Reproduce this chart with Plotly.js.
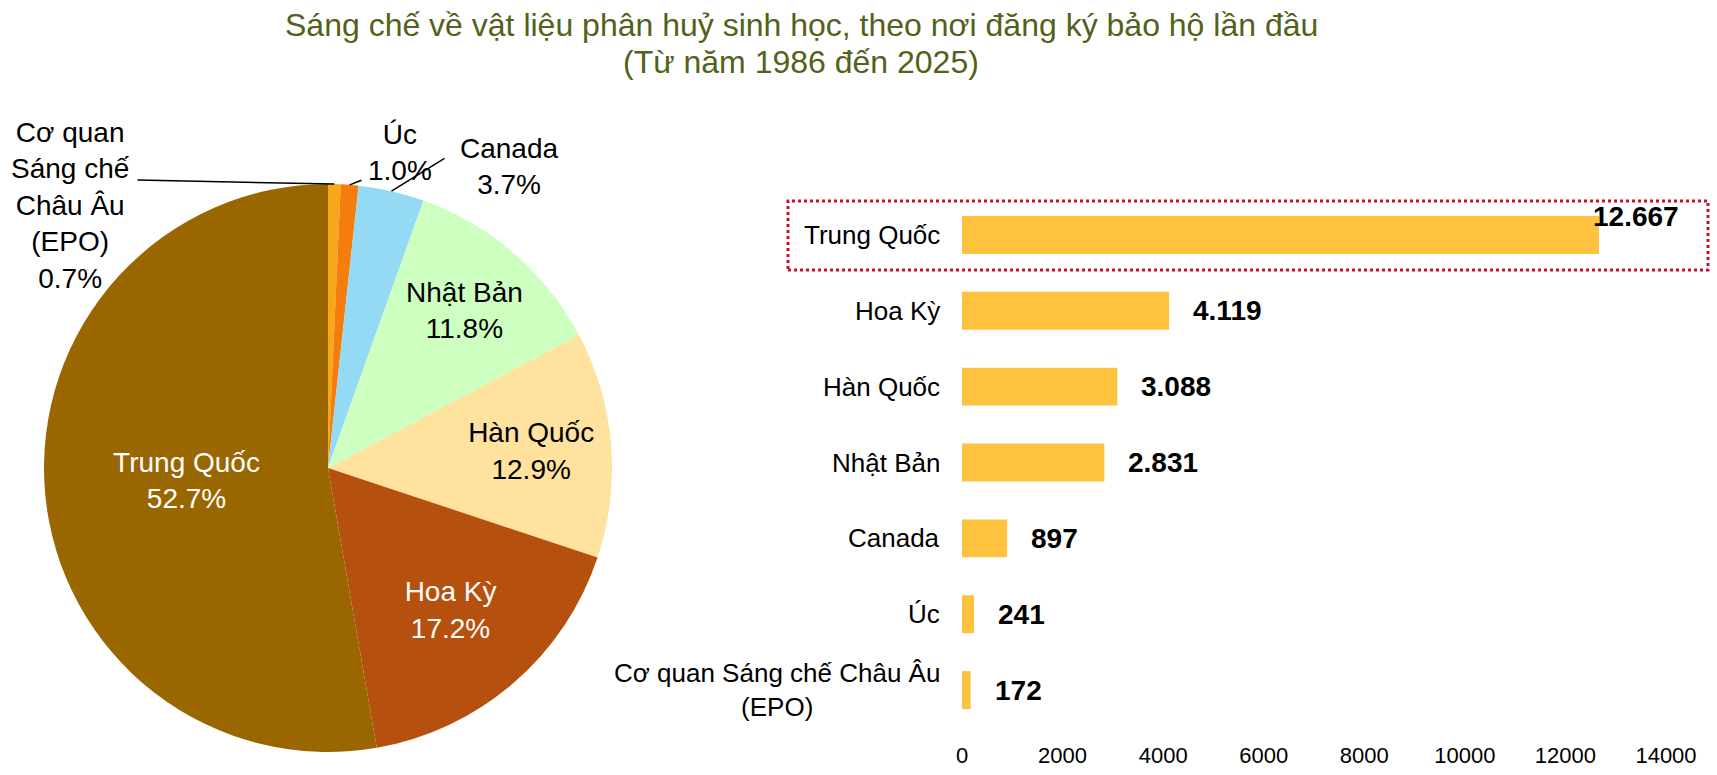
<!DOCTYPE html>
<html>
<head>
<meta charset="utf-8">
<script src="https://cdn.plot.ly/plotly-3.0.1.min.js"></script>
<style>
  html, body { margin: 0; padding: 0; background: #fff; }
  #chart { width: 1717px; height: 775px; }
</style>
</head>
<body>
<div id="chart"></div>
<script>
// Countries, ordered from the top bar down (and clockwise on the pie from EPO)
const countries = ["Trung Quốc", "Hoa Kỳ", "Hàn Quốc", "Nhật Bản", "Canada", "Úc", "Cơ quan Sáng chế Châu Âu<br>(EPO)"];
const patentCounts = [12667, 4119, 3088, 2831, 897, 241, 172];
const pieLabels = ["Trung Quốc", "Hoa Kỳ", "Hàn Quốc", "Nhật Bản", "Canada", "Úc", "Cơ quan<br>Sáng chế<br>Châu Âu<br>(EPO)"];
const xTicks = [0, 2000, 4000, 6000, 8000, 10000, 12000, 14000];
const titleLines = ["Sáng chế về vật liệu phân huỷ sinh học, theo nơi đăng ký bảo hộ lần đầu", "(Từ năm 1986 đến 2025)"];

const W = 1717, H = 775;
const FONT = "Liberation Sans, Arial, sans-serif";
const sliceColors = ["#996600", "#B5500F", "#FEE29E", "#CCFFC0", "#94DAF5", "#F57D0D", "#FAA61A"];
const darkSlices = ["Trung Quốc", "Hoa Kỳ"];
const nSmall = 3; // the three smallest slices are labelled outside

// pie geometry in pixels
const pie = { cx: 328, cy: 468, r: 284 };
const px = (x) => x / W;
const py = (y) => 1 - y / H;

// pie: reverse so it runs clockwise from 12 o'clock starting with EPO
const pieVals = patentCounts.slice().reverse();
const pieLab = pieLabels.slice().reverse();
const pieCol = sliceColors.slice().reverse();
const total = pieVals.reduce((a, b) => a + b, 0);

const pieTrace = {
  type: "pie",
  values: pieVals,
  labels: pieLab,
  sort: false,
  direction: "clockwise",
  rotation: 0,
  marker: { colors: pieCol, line: { width: 0 } },
  texttemplate: pieLab.map((l, i) => (i < nSmall ? "" : "%{label}<br>%{percent:.1%}")),
  textposition: "inside",
  insidetextorientation: "horizontal",
  textfont: {
    family: FONT,
    size: 28,
    color: pieLab.map((l) => (darkSlices.includes(l) ? "#ffffff" : "#000000")),
  },
  hoverinfo: "label+percent",
  domain: {
    x: [px(pie.cx - pie.r), px(pie.cx + pie.r)],
    y: [py(pie.cy + pie.r), py(pie.cy - pie.r)],
  },
};

const barTrace = {
  type: "bar",
  orientation: "h",
  x: patentCounts,
  y: countries,
  marker: { color: "#FEC23E", line: { width: 0 } },
  xaxis: "x",
  yaxis: "y",
  hoverinfo: "x+y",
};

const annotations = [];

// title, one annotation per line
titleLines.forEach((t, i) => {
  annotations.push({
    xref: "paper",
    yref: "paper",
    x: px(801),
    y: py(i === 0 ? 25 : 62),
    xanchor: "center",
    yanchor: "middle",
    showarrow: false,
    text: t,
    font: { family: FONT, size: 32, color: "#52621A" },
  });
});

// outside labels of the small slices, with a leader line to the slice
const outsideLabelAt = [
  { x: 70, y: 205 },  // EPO
  { x: 400, y: 153 }, // Úc
  { x: 509, y: 167 }, // Canada
];
const leaderTail = [
  { x: 137, y: 180 },
  { x: 362, y: 180 },
  { x: 445, y: 158 },
];
let cum = 0;
pieVals.forEach((v, i) => {
  const mid = ((cum + v / 2) / total) * 2 * Math.PI;
  cum += v;
  if (i >= nSmall) return;
  const sx = pie.cx + pie.r * Math.sin(mid);
  const sy = pie.cy - pie.r * Math.cos(mid);
  const pos = outsideLabelAt[i];
  annotations.push({
    xref: "paper",
    yref: "paper",
    x: px(pos.x),
    y: py(pos.y),
    xanchor: "center",
    yanchor: "middle",
    showarrow: false,
    text: pieLab[i] + "<br>" + ((v / total) * 100).toFixed(1) + "%",
    align: "center",
    font: { family: FONT, size: 28, color: "#000" },
  });
  const tail = leaderTail[i];
  annotations.push({
    xref: "paper",
    yref: "paper",
    x: px(sx),
    y: py(sy),
    ax: tail.x - sx,
    ay: tail.y - sy,
    xanchor: "center",
    yanchor: "middle",
    showarrow: true,
    arrowhead: 0,
    arrowwidth: 1.5,
    arrowcolor: "#000",
    standoff: 0,
    startstandoff: 0,
    borderpad: 0,
    text: " ",
    font: { size: 1 },
  });
});

// category labels of the bar chart (centered multi-line)
countries.forEach((c) => {
  annotations.push({
    xref: "x domain",
    yref: "y",
    x: 0,
    y: c,
    xanchor: "right",
    xshift: -20,
    align: "center",
    showarrow: false,
    text: c,
    font: { family: FONT, size: 26, color: "#000" },
  });
});

// value labels, thousands written with a dot
const maxVal = Math.max(...patentCounts);
patentCounts.forEach((v, i) => {
  const isMax = v === maxVal;
  annotations.push({
    xref: "x",
    yref: "y",
    x: v,
    y: countries[i],
    xanchor: "left",
    xshift: isMax ? -8 : 22,
    yshift: isMax ? 18 : 0,
    showarrow: false,
    text: "<b>" + v.toLocaleString("de-DE") + "</b>",
    font: { family: FONT, size: 28, color: "#000" },
  });
});

const layout = {
  width: W,
  height: H,
  margin: { l: 0, r: 0, t: 0, b: 0 },
  paper_bgcolor: "#fff",
  plot_bgcolor: "#fff",
  showlegend: false,
  xaxis: {
    domain: [px(962), px(1666)],
    range: [0, 14000],
    tickvals: xTicks,
    ticktext: xTicks.map(String),
    showgrid: false,
    zeroline: false,
    showline: false,
    ticks: "",
    ticklabelstandoff: 12,
    tickfont: { family: FONT, size: 22, color: "#000" },
    fixedrange: true,
  },
  yaxis: {
    domain: [py(728), py(197)],
    type: "category",
    autorange: "reversed",
    showticklabels: false,
    showgrid: false,
    zeroline: false,
    showline: false,
    ticks: "",
    fixedrange: true,
  },
  bargap: 0.5,
  annotations: annotations,
  shapes: [
    {
      type: "rect",
      xref: "paper",
      yref: "paper",
      x0: px(788),
      x1: px(1708),
      y0: py(270),
      y1: py(201),
      line: { color: "#C8102E", width: 3, dash: "dot" },
      fillcolor: "rgba(0,0,0,0)",
    },
  ],
};

Plotly.newPlot("chart", [pieTrace, barTrace], layout, { displayModeBar: false, staticPlot: true });
</script>
</body>
</html>
